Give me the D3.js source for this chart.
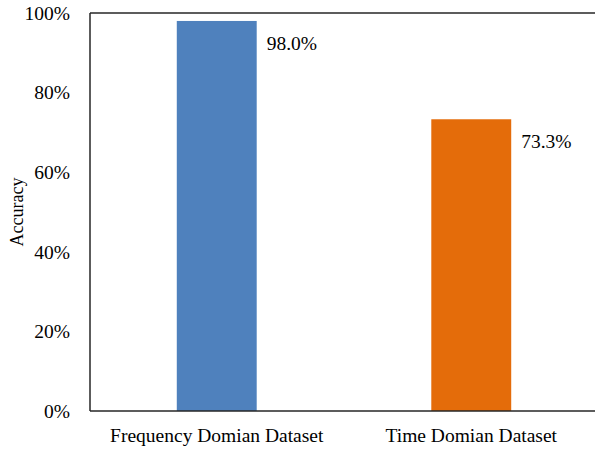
<!DOCTYPE html>
<html>
<head>
<meta charset="utf-8">
<script src="https://cdn.jsdelivr.net/npm/d3@7"></script>
<style>
body{ margin:0; background:#fff; }
svg text{ font-family:"Liberation Serif","Times New Roman",serif; fill:#000; }
</style>
</head>
<body>
<svg></svg>
<script>
var categories = ["Frequency Domian Dataset", "Time Domian Dataset"];
var accuracy = [0.980, 0.733];
var barColors = ["#4f81bd", "#e46c0a"];
var yTicks = [0, 0.2, 0.4, 0.6, 0.8, 1.0];

var width = 595,
    height = 451;

var svg = d3.select("svg")
    .attr("width", width)
    .attr("height", height);

var plotLeft = 90, plotRight = 598, plotTop = 13, plotBottom = 411;

var x = d3.scaleBand()
    .domain(categories)
    .range([plotLeft, plotRight])
    .paddingInner(0.686)
    .paddingOuter(0.341);

var y = d3.scaleLinear()
    .domain([0, 1])
    .range([plotBottom, plotTop]);

// bars
svg.selectAll("rect.bar")
    .data(accuracy)
    .enter().append("rect")
    .attr("class", "bar")
    .attr("x", function(d, i) { return x(categories[i]); })
    .attr("y", function(d) { return y(d); })
    .attr("width", x.bandwidth())
    .attr("height", function(d) { return y(0) - y(d); })
    .style("fill", function(d, i) { return barColors[i]; });

// frame lines: left, top, bottom
svg.append("line")
    .attr("x1", plotLeft).attr("x2", plotLeft)
    .attr("y1", plotTop).attr("y2", plotBottom)
    .style("stroke", "#262626").style("stroke-width", 1.5);
svg.append("line")
    .attr("x1", plotLeft).attr("x2", width)
    .attr("y1", y(1)).attr("y2", y(1))
    .style("stroke", "#262626").style("stroke-width", 1.5);
svg.append("line")
    .attr("x1", plotLeft).attr("x2", width)
    .attr("y1", y(0)).attr("y2", y(0))
    .style("stroke", "#262626").style("stroke-width", 1.5);

// y tick labels
var yAxis = d3.axisLeft(y)
    .tickValues(yTicks)
    .tickSize(0)
    .tickPadding(20)
    .tickFormat(d3.format(".0%"));
var gy = svg.append("g")
    .attr("transform", "translate(" + plotLeft + ",0)")
    .call(yAxis);
gy.select(".domain").remove();
gy.selectAll("text")
    .style("font-family", "Liberation Serif")
    .style("font-size", "19.5px")
    .style("fill", "#000");

// x tick labels
var xAxis = d3.axisBottom(x).tickSize(0).tickPadding(17);
var gx = svg.append("g")
    .attr("transform", "translate(0," + plotBottom + ")")
    .call(xAxis);
gx.select(".domain").remove();
gx.selectAll("text")
    .style("font-family", "Liberation Serif")
    .style("font-size", "19.5px")
    .style("fill", "#000");

// value labels
svg.selectAll("text.val")
    .data(accuracy)
    .enter().append("text")
    .attr("class", "val")
    .attr("x", function(d, i) { return x(categories[i]) + x.bandwidth() + 10; })
    .attr("y", function(d) { return y(d) + 29; })
    .style("font-size", "19.5px")
    .text(function(d) { return d3.format(".1%")(d); });

// y axis title
svg.append("text")
    .attr("transform", "translate(23," + ((plotTop + plotBottom) / 2) + ") rotate(-90)")
    .attr("text-anchor", "middle")
    .style("font-size", "18px")
    .text("Accuracy");
</script>
</body>
</html>
